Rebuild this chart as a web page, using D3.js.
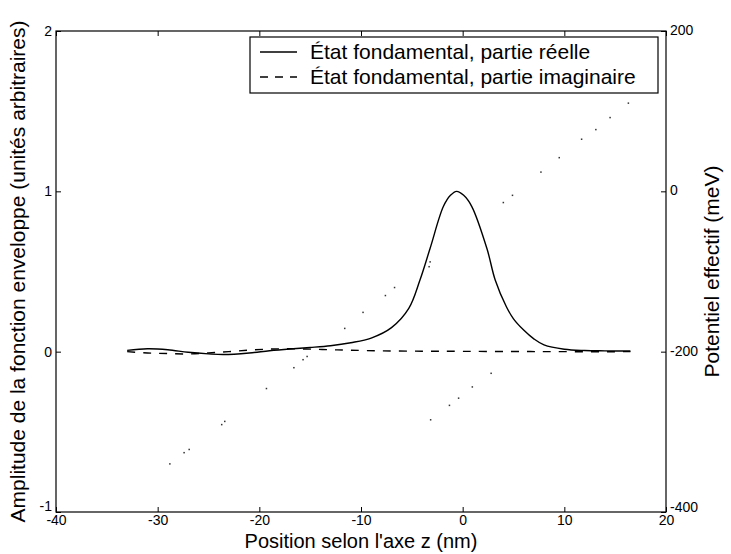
<!DOCTYPE html>
<html>
<head>
<meta charset="utf-8">
<script src="https://cdn.jsdelivr.net/npm/d3@7"></script>
<style>
  html, body { margin: 0; padding: 0; background: #fff; }
  svg { display: block; font-family: "Liberation Sans", Arial, Helvetica, sans-serif; }
  .axis text { font-size: 14px; fill: #000; }
  .axis line { stroke: #000; }
  .axis path { display: none; }
  .title { font-size: 21px; fill: #000; }
  .xtitle { font-size: 20px; fill: #000; }
  .legend text { font-size: 21px; fill: #000; }
</style>
</head>
<body>
<div id="chart"></div>
<script>
// position along z (nm) for the envelope functions
const realZ = [-33, -31, -29, -27, -25, -23.5, -21, -19, -17, -15, -13, -11, -9, -7, -5.3, -4.2,
  -3.2, -1.9, -1.2, -0.6, 0.1, 0.9, 2.4, 3.2, 4.3, 5.0, 6.0, 7.0, 8.0, 10, 12, 14, 16.5];
const realAmp = [0.008, 0.018, 0.012, -0.004, -0.014, -0.018, -0.008, 0.006, 0.017, 0.026, 0.037,
  0.056, 0.085, 0.15, 0.27, 0.447, 0.645, 0.905, 0.975, 1.0, 0.975, 0.905, 0.64, 0.447, 0.28,
  0.205, 0.135, 0.08, 0.042, 0.015, 0.007, 0.005, 0.004];

const imagZ = [-33, -31, -29, -27, -25, -23, -21, -19, -17, -15, -13, -11, -8, -4, 0, 5, 10, 16.5];
const imagAmp = [0.0, -0.008, -0.012, -0.014, -0.008, 0.0, 0.01, 0.016, 0.018, 0.016, 0.012,
  0.009, 0.005, 0.003, 0.002, 0.001, 0.0, 0.0];

// effective potential (meV), sampled dots
const potZ = [-28.8, -27.4, -26.9, -23.7, -23.4, -19.3, -16.6, -15.7, -15.3, -11.6, -9.8, -7.6,
  -6.7, -3.3, -3.2, -3.15, -1.3, -0.4, 0.95, 2.8, 4.0, 4.9, 7.7, 9.5, 11.7, 13.1, 14.5, 16.3];
const potV = [-340, -326, -322, -291, -287, -246, -220, -210, -206, -171, -151, -130, -120, -94,
  -88, -285, -267, -258, -244, -227, -14, -5, 24, 42, 65, 77, 92, 110];

const xTicks = [-40, -30, -20, -10, 0, 10, 20];
const yLeftTicks = [-1, 0, 1, 2];
const yRightTicks = [-400, -200, 0, 200];
const legendLabels = ['État fondamental, partie réelle', 'État fondamental, partie imaginaire'];

const canvasWidth = 731;
const canvasHeight = 554;
const plot = { left: 56, right: 666, top: 31, bottom: 512 };

const svg = d3.select('#chart')
  .append('svg')
  .attr('width', canvasWidth)
  .attr('height', canvasHeight);

const scaleX = d3.scaleLinear().domain([-40, 20]).range([plot.left, plot.right]);
const scaleY = d3.scaleLinear().domain([-1, 2]).range([plot.bottom, plot.top]);
const scaleV = d3.scaleLinear().domain([-400, 200]).range([plot.bottom, plot.top]);

const fmt = d => String(d);

// axes, ticks pointing inward
svg.append('g')
  .attr('class', 'axis')
  .attr('transform', `translate(0, ${plot.bottom})`)
  .call(d3.axisBottom(scaleX).tickValues(xTicks).tickFormat(fmt)
    .tickSizeInner(-5).tickSizeOuter(0).tickPadding(3));

svg.append('g')
  .attr('class', 'axis')
  .attr('transform', `translate(0, ${plot.top})`)
  .call(d3.axisTop(scaleX).tickValues(xTicks).tickFormat('')
    .tickSizeInner(-5).tickSizeOuter(0));

svg.append('g')
  .attr('class', 'axis')
  .attr('transform', `translate(${plot.left}, 0)`)
  .call(d3.axisLeft(scaleY).tickValues(yLeftTicks).tickFormat(fmt)
    .tickSizeInner(-5).tickSizeOuter(0).tickPadding(4))
  .selectAll('.tick text')
    .attr('dy', d => (d === -1 ? '-0.12em' : '0.32em'));

svg.append('g')
  .attr('class', 'axis')
  .attr('transform', `translate(${plot.right}, 0)`)
  .call(d3.axisRight(scaleV).tickValues(yRightTicks).tickFormat(fmt)
    .tickSizeInner(-5).tickSizeOuter(0).tickPadding(4))
  .selectAll('.tick text')
    .attr('dy', d => (d === -400 ? '-0.05em' : '0.25em'));

// frame
svg.append('rect')
  .attr('x', plot.left)
  .attr('y', plot.top)
  .attr('width', plot.right - plot.left)
  .attr('height', plot.bottom - plot.top)
  .attr('fill', 'none')
  .attr('stroke', '#000')
  .attr('stroke-width', 1.2);

// potential dots
svg.append('g')
  .selectAll('rect')
  .data(potZ.map((z, i) => [z, potV[i]]))
  .enter()
  .append('rect')
    .attr('x', d => scaleX(d[0]) - 0.75)
    .attr('y', d => scaleV(d[1]) - 0.75)
    .attr('width', 1.5)
    .attr('height', 1.5)
    .attr('fill', '#333');

const line = d3.line()
  .x(d => scaleX(d[0]))
  .y(d => scaleY(d[1]))
  .curve(d3.curveCatmullRom.alpha(0.5));

svg.append('path')
  .datum(imagZ.map((z, i) => [z, imagAmp[i]]))
  .attr('d', line)
  .attr('fill', 'none')
  .attr('stroke', '#000')
  .attr('stroke-width', 1.4)
  .attr('stroke-dasharray', '8,8');

svg.append('path')
  .datum(realZ.map((z, i) => [z, realAmp[i]]))
  .attr('d', line)
  .attr('fill', 'none')
  .attr('stroke', '#000')
  .attr('stroke-width', 1.4);

// axis titles
svg.append('text')
  .attr('class', 'xtitle')
  .attr('x', (plot.left + plot.right) / 2)
  .attr('y', 548)
  .attr('text-anchor', 'middle')
  .text('Position selon l\'axe z (nm)');

svg.append('text')
  .attr('class', 'title')
  .attr('transform', `translate(25, ${(plot.top + plot.bottom) / 2}) rotate(-90)`)
  .attr('text-anchor', 'middle')
  .text('Amplitude de la fonction enveloppe (unités arbitraires)');

svg.append('text')
  .attr('class', 'title')
  .attr('transform', `translate(719, ${(plot.top + plot.bottom) / 2}) rotate(-90)`)
  .attr('text-anchor', 'middle')
  .text('Potentiel effectif (meV)');

// legend
const legend = svg.append('g').attr('class', 'legend');
legend.append('rect')
  .attr('x', 250)
  .attr('y', 37)
  .attr('width', 408)
  .attr('height', 56)
  .attr('fill', '#fff')
  .attr('stroke', '#000')
  .attr('stroke-width', 1.2);

legendLabels.forEach((label, i) => {
  const y = 52 + i * 25;
  legend.append('line')
    .attr('x1', 260)
    .attr('x2', 297)
    .attr('y1', y)
    .attr('y2', y)
    .attr('stroke', '#000')
    .attr('stroke-width', 1.4)
    .attr('stroke-dasharray', i === 0 ? null : '8,7');
  legend.append('text')
    .attr('x', 310)
    .attr('y', y)
    .attr('dy', '0.35em')
    .text(label);
});
</script>
</body>
</html>
